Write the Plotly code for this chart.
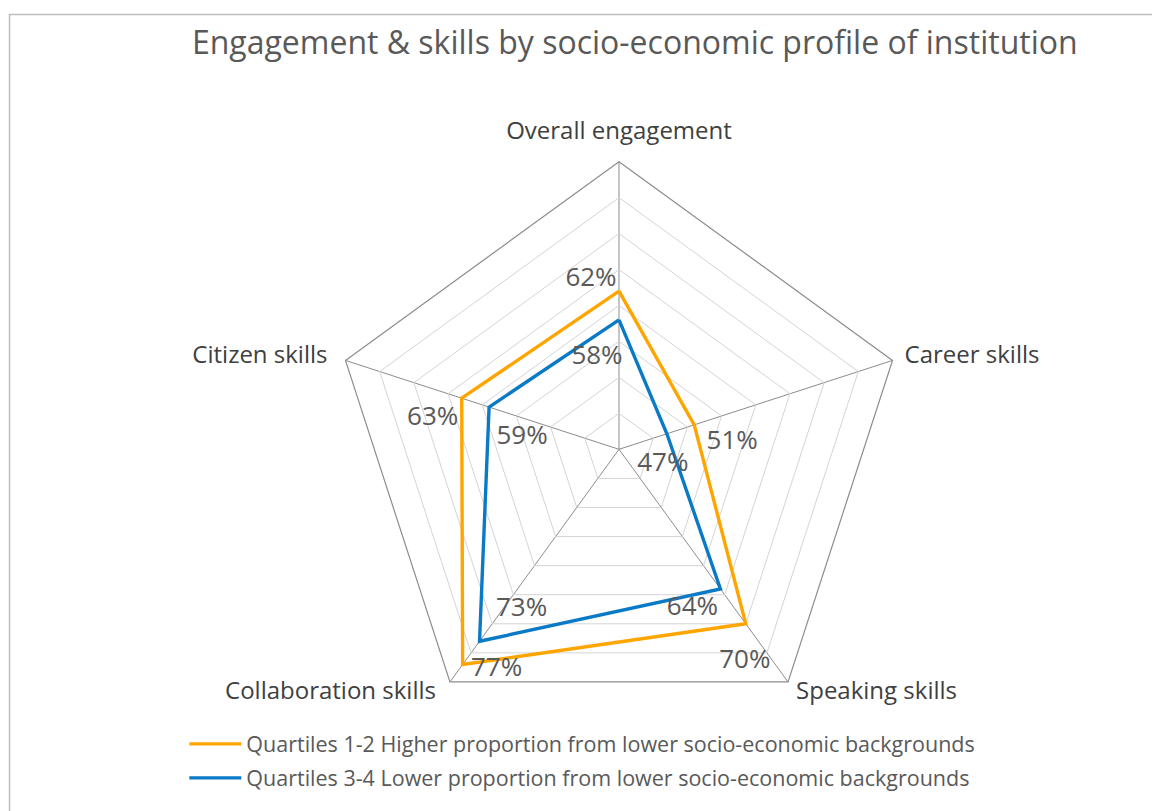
import math
import plotly.graph_objects as go

# Survey categories and shares (%) by institution socio-economic profile
categories = ["Overall engagement", "Career skills", "Speaking skills",
              "Collaboration skills", "Citizen skills"]
q12_values = [62, 51, 70, 77, 63]   # Quartiles 1-2
q34_values = [58, 47, 64, 73, 59]   # Quartiles 3-4
q12_name = "Quartiles 1-2 Higher proportion from lower socio-economic backgrounds"
q34_name = "Quartiles 3-4 Lower proportion from lower socio-economic backgrounds"
title_text = "Engagement & skills by socio-economic profile of institution"

R_MIN, R_MAX = 40, 80

# Label placement: screen-pixel nudges (dx, dy) away from each vertex
q12_label_shift = [(-28, -12), (38, 18), (-1, 38), (34, 5), (-29, 20)]
q34_label_shift = [(-22, 38), (-4, 31), (-28, 20), (42, -32), (33, 30)]
cat_label_shift = [(0, -29), (12, -3), (8, 11), (-14, 11), (-18, -3)]
cat_label_pos = ["middle center", "middle right", "middle right",
                 "middle left", "middle left"]

W, H = 1152, 811
CX, CY, RAD = 619.0, 449.3, 287.6          # polar centre and radius in px
dom_x = [(CX - RAD) / W, (CX + RAD) / W]
dom_y = [(H - CY - RAD) / H, (H - CY + RAD) / H]
# wider, concentric overlay used only for text
RAD2 = H - CY
dom2_x = [(CX - RAD2) / W, (CX + RAD2) / W]
dom2_y = [0.0, 2 * RAD2 / H]
R2_MAX = R_MIN + (R_MAX - R_MIN) * RAD2 / RAD

ORANGE = "#FFA500"
BLUE = "#0A7AC6"
TXT = "#595959"
FONT = "Open Sans"


def label_polar(values, shifts):
    """Turn value + pixel nudge into (r, theta) on a linear polar axis."""
    rs, ts = [], []
    n = len(values)
    for i, (v, (dx, dy)) in enumerate(zip(values, shifts)):
        a = math.radians(90 - i * 360 / n)
        rp = (v - R_MIN) / (R_MAX - R_MIN) * RAD
        x = rp * math.cos(a) + dx
        y = rp * math.sin(a) - dy
        rs.append(R_MIN + math.hypot(x, y) / RAD * (R_MAX - R_MIN))
        ts.append((90 - math.degrees(math.atan2(y, x))) % 360)
    return rs, ts


fig = go.Figure()

for k, (vals, name, col) in enumerate([(q12_values, q12_name, ORANGE),
                                       (q34_values, q34_name, BLUE)]):
    fig.add_trace(go.Scatterpolar(
        r=vals + vals[:1], theta=categories + categories[:1],
        mode="lines", name=name, line=dict(color=col, width=3.4),
        legendgroup=f"g{k}", subplot="polar", hoverinfo="skip"))

for vals, shifts in [(q12_values, q12_label_shift),
                     (q34_values, q34_label_shift)]:
    rs, ts = label_polar(vals, shifts)
    fig.add_trace(go.Scatterpolar(
        r=rs, theta=ts, mode="text", text=[f"{v}%" for v in vals],
        textposition="middle center", cliponaxis=False,
        textfont=dict(family=FONT, size=26, color=TXT),
        subplot="polar2", showlegend=False, hoverinfo="skip"))

# Category names around the outer ring
rs, ts = label_polar([R_MAX] * len(categories), cat_label_shift)
fig.add_trace(go.Scatterpolar(
    r=rs, theta=ts, mode="text", text=categories,
    textposition=cat_label_pos, cliponaxis=False,
    textfont=dict(family=FONT, size=24, color="#404040"),
    subplot="polar2", showlegend=False, hoverinfo="skip"))

fig.update_layout(
    width=W, height=H,
    margin=dict(l=0, r=0, t=0, b=0),
    paper_bgcolor="white",
    font=dict(family=FONT, color=TXT),
    title=dict(text=title_text, x=0.551, xanchor="center", y=0.947,
               yanchor="middle", font=dict(family=FONT, size=32, color=TXT)),
    polar=dict(
        domain=dict(x=dom_x, y=dom_y),
        bgcolor="rgba(0,0,0,0)",
        gridshape="linear",
        radialaxis=dict(range=[R_MIN, R_MAX], dtick=5, showticklabels=False,
                        ticks="", showline=False, gridcolor="#D4D4D4",
                        gridwidth=1),
        angularaxis=dict(direction="clockwise", rotation=90,
                         categoryorder="array", categoryarray=categories,
                         showline=True, linecolor="#8C8C8C", linewidth=1.2,
                         gridcolor="#8C8C8C", gridwidth=1.2, ticks="",
                         showticklabels=False),
    ),
    polar2=dict(
        domain=dict(x=dom2_x, y=dom2_y),
        bgcolor="rgba(0,0,0,0)",
        radialaxis=dict(range=[R_MIN, R2_MAX], visible=False),
        angularaxis=dict(direction="clockwise", rotation=90, visible=False),
    ),
    legend=dict(orientation="v", x=0.16, xanchor="left", y=0.108,
                yanchor="top", bgcolor="rgba(0,0,0,0)",
                font=dict(family=FONT, size=21.5, color=TXT),
                tracegroupgap=3, itemwidth=52),
    shapes=[dict(type="rect", xref="paper", yref="paper",
                 x0=9.5 / W, x1=1.02, y0=-0.02, y1=(H - 14.5) / H,
                 line=dict(color="#BDBDBD", width=1.5))],
)

fig.write_html("out.html")
